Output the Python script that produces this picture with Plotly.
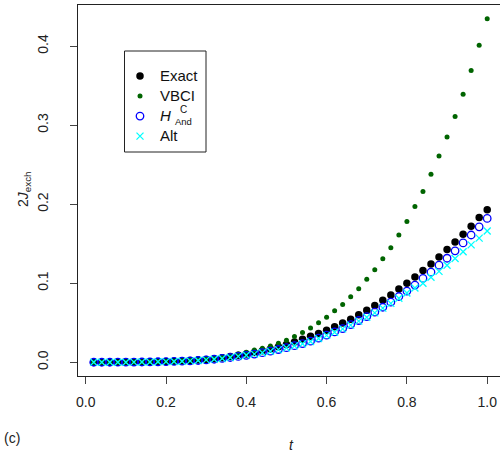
import plotly.graph_objects as go

# Hopping parameter t (0.02 ... 1.00)
t = [round(0.02 * k, 2) for k in range(1, 51)]

# 2 J_exch for each method
exact = [0.0000, 0.0000, 0.0001, 0.0001, 0.0002, 0.0002, 0.0003, 0.0005, 0.0007, 0.0009,
         0.0012, 0.0016, 0.0021, 0.0027, 0.0036, 0.0045, 0.0058, 0.0072, 0.0088, 0.0105,
         0.0123, 0.0144, 0.0168, 0.0195, 0.0224, 0.0256, 0.0290, 0.0328, 0.0365, 0.0405,
         0.0449, 0.0495, 0.0545, 0.0600, 0.0658, 0.0718, 0.0785, 0.0852, 0.0926, 0.1000,
         0.1078, 0.1160, 0.1244, 0.1333, 0.1426, 0.1520, 0.1620, 0.1720, 0.1830, 0.1930]

vbci = [0.0000, 0.0000, 0.0001, 0.0001, 0.0002, 0.0003, 0.0004, 0.0005, 0.0007, 0.0010,
        0.0014, 0.0019, 0.0025, 0.0032, 0.0041, 0.0052, 0.0065, 0.0081, 0.0103, 0.0128,
        0.0154, 0.0177, 0.0205, 0.0240, 0.0278, 0.0325, 0.0376, 0.0434, 0.0500, 0.0570,
        0.0650, 0.0730, 0.0830, 0.0930, 0.1050, 0.1170, 0.1310, 0.1450, 0.1610, 0.1780,
        0.1970, 0.2160, 0.2380, 0.2610, 0.2850, 0.3110, 0.3390, 0.3690, 0.4010, 0.4346]

h_and = [0.0000, 0.0000, 0.0000, 0.0001, 0.0001, 0.0002, 0.0003, 0.0004, 0.0006, 0.0008,
         0.0010, 0.0013, 0.0017, 0.0022, 0.0030, 0.0038, 0.0048, 0.0060, 0.0074, 0.0088,
         0.0103, 0.0121, 0.0140, 0.0161, 0.0185, 0.0210, 0.0236, 0.0266, 0.0304, 0.0342,
         0.0384, 0.0426, 0.0477, 0.0528, 0.0578, 0.0633, 0.0696, 0.0760, 0.0832, 0.0900,
         0.0977, 0.1060, 0.1140, 0.1228, 0.1316, 0.1410, 0.1510, 0.1610, 0.1713, 0.1820]

alt = [0.0000, 0.0000, 0.0000, 0.0001, 0.0001, 0.0002, 0.0003, 0.0004, 0.0006, 0.0008,
       0.0010, 0.0013, 0.0017, 0.0022, 0.0030, 0.0038, 0.0048, 0.0060, 0.0074, 0.0088,
       0.0103, 0.0120, 0.0139, 0.0160, 0.0183, 0.0208, 0.0233, 0.0263, 0.0300, 0.0340,
       0.0380, 0.0422, 0.0470, 0.0520, 0.0570, 0.0625, 0.0685, 0.0745, 0.0810, 0.0877,
       0.0940, 0.1000, 0.1076, 0.1150, 0.1228, 0.1312, 0.1397, 0.1485, 0.1570, 0.1660]

x_ticks = [0.0, 0.2, 0.4, 0.6, 0.8, 1.0]
y_ticks = [0.0, 0.1, 0.2, 0.3, 0.4]

W, H = 500, 455
L, R, T, B = 78, 0, 5, 79
pw, ph = W - L - R, H - T - B


def px(xp):
    return (xp - L) / pw


def py(yp):
    return (H - B - yp) / ph


FONT = "Liberation Sans, Arial, sans-serif"


def entry(text):
    # legend rows are spaced by the (smaller) legend font; the label itself is larger
    return f"<span style='font-size:15px'>{text}</span>"


fig = go.Figure()
fig.add_trace(go.Scatter(x=t, y=exact, mode="markers", name=entry("Exact"),
                         marker=dict(symbol="circle", size=7.5, color="black")))
fig.add_trace(go.Scatter(x=t, y=vbci, mode="markers", name=entry("VBCI"),
                         marker=dict(symbol="circle", size=5, color="#006400")))
fig.add_trace(go.Scatter(x=t, y=h_and, mode="markers", name=entry("<i>H</i>"),
                         marker=dict(symbol="circle-open", size=7.5, color="#0000FF",
                                     line=dict(width=1.3, color="#0000FF"))))
fig.add_trace(go.Scatter(x=t, y=alt, mode="markers", name=entry("Alt"),
                         marker=dict(symbol="x-thin-open", size=7, color="#00FFFF",
                                     line=dict(width=1.3, color="#00FFFF"))))

axis_common = dict(showgrid=False, zeroline=False, showline=True, linecolor="#222",
                   linewidth=1, ticks="outside", ticklen=7, tickwidth=1, tickcolor="#444",
                   tickfont=dict(family=FONT, size=14, color="#222"))

# plot area spans x from -0.0192 (left edge) to the right border of the page
fig.update_xaxes(range=[-0.0192, (W - 85.7) / 401.5], tickvals=x_ticks,
                 ticktext=[f"{v:.1f}" for v in x_ticks], mirror=True,
                 ticklabelstandoff=6, **axis_common)
fig.update_yaxes(range=[-0.0174, 0.452], tickvals=y_ticks,
                 ticktext=[f"{v:.1f}" for v in y_ticks], tickangle=-90,
                 ticklabelstandoff=16, **axis_common)

# legend frame
lx0, ly0, lx1, ly1 = 124.5, 51, 206, 152
fig.add_shape(type="rect", xref="paper", yref="paper",
              x0=px(lx0), x1=px(lx1), y0=py(ly1), y1=py(ly0),
              line=dict(color="#222", width=1), fillcolor="rgba(0,0,0,0)")


def label(text, x, y, size=14, angle=0, color="#222"):
    return dict(text=text, x=px(x), y=py(y), xref="paper", yref="paper",
                xanchor="center", yanchor="middle", showarrow=False, textangle=angle,
                font=dict(family=FONT, size=size, color=color))


fig.update_layout(
    width=W, height=H,
    margin=dict(l=L, r=R, t=T, b=B, pad=0),
    paper_bgcolor="white", plot_bgcolor="white",
    showlegend=True,
    legend=dict(x=px(120), y=py(61), xanchor="left", yanchor="top",
                bgcolor="rgba(0,0,0,0)", borderwidth=0, tracegroupgap=0,
                font=dict(family=FONT, size=13.1, color="#111"), itemwidth=30),
    annotations=[
        label("C", 183, 109, size=10, color="#111"),
        label("And", 183, 122, size=9.5, color="#111"),
        label("2<i>J</i><sub>exch</sub>", 24, 189, angle=-90),
        label("<i>t</i>", 291, 445),
        label("(c)", 12, 438),
    ],
)

fig.write_html("out.html")
